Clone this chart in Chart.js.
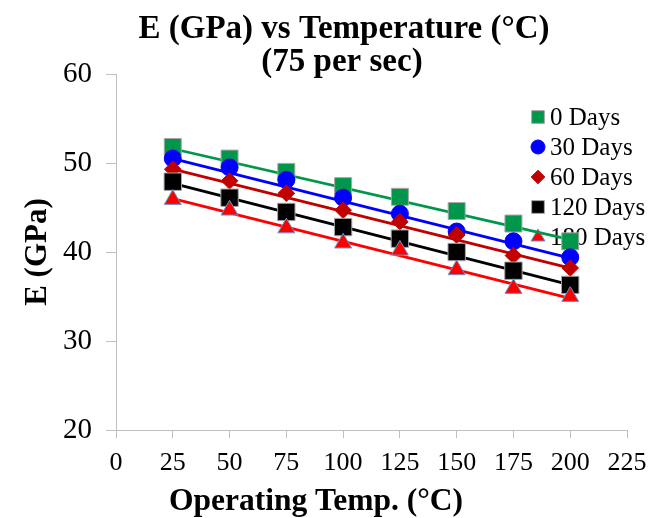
<!DOCTYPE html>
<html>
<head>
<meta charset="utf-8">
<title>E (GPa) vs Temperature</title>
<script src="https://cdn.jsdelivr.net/npm/chart.js"></script>
<style>
  html, body { margin: 0; padding: 0; background: #fff; }
  canvas { display: block; }
</style>
</head>
<body>
<canvas id="myChart" width="658" height="518"></canvas>
<script>
// values
var temps = [25, 50, 75, 100, 125, 150, 175, 200];
var e0 = [51.8, 50.5, 49.0, 47.4, 46.2, 44.6, 43.2, 41.2];
var e30 = [50.5, 49.5, 48.1, 46.1, 44.3, 42.3, 41.2, 39.4];
var e60 = [49.3, 48.0, 46.6, 44.7, 43.4, 41.9, 39.6, 38.2];
var e120 = [47.9, 46.1, 44.5, 42.8, 41.5, 40.0, 37.9, 36.3];
var e180 = [45.9, 44.7, 42.7, 41.0, 40.2, 38.0, 35.9, 35.0];

// trend lines, end points as they appear in the picture
var trendX = [25, 200];
var trend0 = [51.6, 41.4];
var trend30 = [50.5, 39.3];
var trend60 = [49.3, 38.2];
var trend120 = [47.7, 36.3];
var trend180 = [46.0, 34.8];

var seriesNames = ['0 Days', '30 Days', '60 Days', '120 Days', '180 Days'];
var xTicks = [0, 25, 50, 75, 100, 125, 150, 175, 200, 225];
var yTicks = [20, 30, 40, 50, 60];

var serif = "'Liberation Serif', 'Times New Roman', serif";
var axisGray = '#BFBFBF';

function pts(xs, ys) {
  var out = [];
  for (var i = 0; i < xs.length; i++) {
    out.push({x: xs[i], y: ys[i]});
  }
  return out;
}

var styles = [
  {fill: '#00964B', border: '#A6A6A6', line: '#00964B', shape: 'rect', r: 12, lr: 9},
  {fill: '#0000FF', border: '#0000FF', line: '#0000FF', shape: 'circle', r: 8.5, lr: 7},
  {fill: '#C00000', border: '#C00000', line: '#C00000', shape: 'rectRot', r: 8.3, lr: 6.8},
  {fill: '#000000', border: '#A6A6A6', line: '#000000', shape: 'rect', r: 12.3, lr: 9},
  {fill: '#FF0000', border: '#5B9BD5', line: '#FF0000', shape: 'triangle', r: 9.8, lr: 8}
];
var allValues = [e0, e30, e60, e120, e180];
var allTrends = [trend0, trend30, trend60, trend120, trend180];

var datasets = [];
for (var s = 0; s < seriesNames.length; s++) {
  datasets.push({
    label: seriesNames[s],
    data: pts(temps, allValues[s]),
    showLine: false,
    pointStyle: styles[s].shape,
    pointRadius: styles[s].r,
    pointHoverRadius: styles[s].r,
    backgroundColor: styles[s].fill,
    borderColor: styles[s].border,
    pointBorderWidth: 1,
    order: 5 - s
  });
}
for (var t = 0; t < seriesNames.length; t++) {
  datasets.push({
    label: seriesNames[t] + ' trend',
    data: pts(trendX, allTrends[t]),
    showLine: true,
    pointRadius: 0,
    borderColor: styles[t].line,
    borderWidth: 2.8,
    fill: false,
    order: 20 - t
  });
}

// titles + legend drawn in the same places as the reference
var chartText = {
  id: 'chartText',
  beforeDatasetsDraw: function(chart) {
    var ctx = chart.ctx;
    ctx.save();
    var lx = 538, tx = 550, y0 = 117, step = 30;
    for (var i = 0; i < seriesNames.length; i++) {
      var y = y0 + i * step;
      ctx.fillStyle = styles[i].fill;
      ctx.strokeStyle = styles[i].border;
      ctx.lineWidth = 1;
      Chart.helpers.drawPoint(ctx, {pointStyle: styles[i].shape, radius: styles[i].lr, borderWidth: 1, rotation: 0}, lx, y);
      ctx.fillStyle = '#000';
      ctx.font = '25px ' + serif;
      ctx.textAlign = 'left';
      ctx.textBaseline = 'middle';
      ctx.fillText(seriesNames[i], tx, y + 1);
    }
    ctx.restore();
  },
  afterDraw: function(chart) {
    var ctx = chart.ctx;
    ctx.save();
    ctx.fillStyle = '#000';
    ctx.textAlign = 'center';
    ctx.textBaseline = 'alphabetic';
    ctx.font = 'bold 33px ' + serif;
    ctx.fillText('E (GPa) vs Temperature (°C)', 344, 38);
    ctx.fillText('(75 per sec)', 342, 71);
    ctx.font = 'bold 31.5px ' + serif;
    ctx.fillText('Operating Temp. (°C)', 316, 510);
    ctx.restore();
  }
};

var ctx = document.getElementById('myChart').getContext('2d');

var options = {
  responsive: false,
  animation: false,
  layout: {
    padding: {top: 74, right: 31, bottom: 38, left: 0}
  },
  plugins: {
    legend: {display: false},
    title: {display: false},
    tooltip: {enabled: false}
  },
  scales: {
    x: {
      type: 'linear',
      min: xTicks[0],
      max: xTicks[xTicks.length - 1],
      afterBuildTicks: function(scale) {
        scale.ticks = xTicks.map(function(v) { return {value: v}; });
      },
      afterFit: function(scale) { scale.height = 50; },
      ticks: {
        color: '#000',
        font: {family: serif, size: 26},
        padding: 10,
        maxRotation: 0,
        autoSkip: false
      },
      grid: {
        drawOnChartArea: false,
        drawTicks: true,
        tickLength: 8,
        color: axisGray
      },
      border: {color: axisGray, width: 1}
    },
    y: {
      type: 'linear',
      min: yTicks[0],
      max: yTicks[yTicks.length - 1],
      afterBuildTicks: function(scale) {
        scale.ticks = yTicks.map(function(v) { return {value: v}; });
      },
      afterFit: function(scale) { scale.width = 116; },
      ticks: {
        color: '#000',
        font: {family: serif, size: 29},
        padding: 14
      },
      grid: {
        drawOnChartArea: false,
        drawTicks: true,
        tickLength: 10,
        color: axisGray
      },
      border: {color: axisGray, width: 1},
      title: {
        display: true,
        text: 'E (GPa)',
        color: '#000',
        font: {family: serif, size: 31, weight: 'bold'},
        padding: {top: 19, bottom: 0}
      }
    }
  }
};

var myChart = new Chart(ctx, {
  type: 'scatter',
  data: {datasets: datasets},
  options: options,
  plugins: [chartText]
});
</script>
</body>
</html>
